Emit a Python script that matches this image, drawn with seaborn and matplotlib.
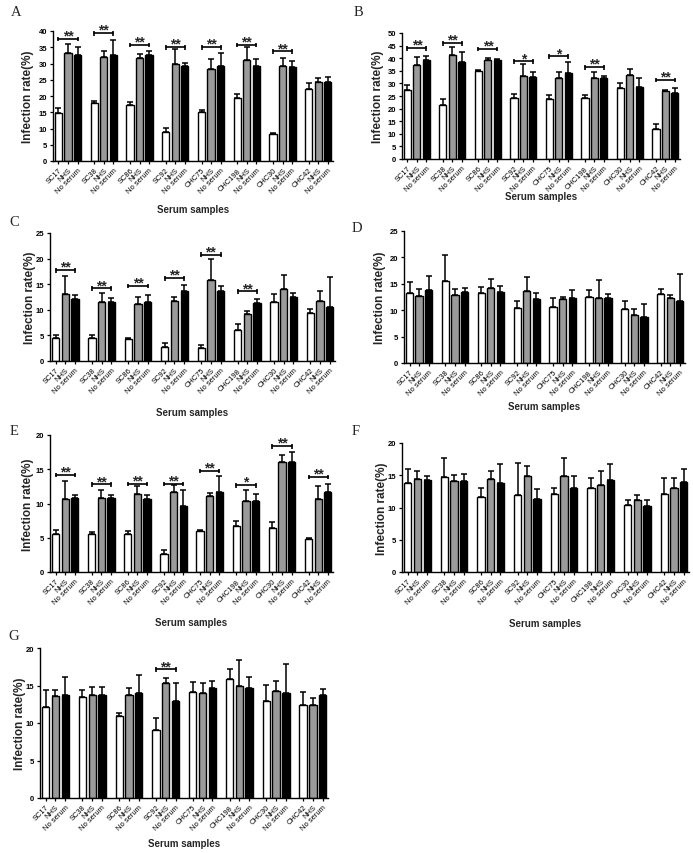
import numpy as np
import pandas as pd
import matplotlib
matplotlib.use("Agg")
import matplotlib.pyplot as plt
import seaborn as sns

groups = ["SC17", "SC38", "SC86", "SC92", "CHC75", "CHC198", "CHC30", "CHC42"]
conditions = ["Serum", "NHS", "No serum"]

# ---- Panel A ----
A_serum = [14.8, 17.7, 17.3, 9.0, 15.0, 19.5, 8.3, 22.3]
A_serum_err = [1.4, 0.9, 1.0, 1.1, 0.8, 1.1, 0.3, 1.7]
A_nhs = [33.2, 32.0, 31.8, 29.7, 28.4, 31.1, 29.3, 24.3]
A_nhs_err = [2.7, 1.8, 1.2, 4.7, 3.1, 4.0, 2.4, 1.2]
A_none = [32.6, 32.6, 32.6, 29.1, 29.3, 29.3, 28.8, 24.3]
A_none_err = [2.6, 4.5, 1.3, 1.1, 4.0, 2.0, 2.0, 1.6]
A_sig_groups = [0, 1, 2, 3, 4, 5, 6]
A_sig_y = [37.6, 39.4, 35.8, 35.1, 35.1, 35.8, 33.8]
A_sig_text = ["**", "**", "**", "**", "**", "**", "**"]

# ---- Panel B ----
B_serum = [27.5, 21.5, 35.1, 24.1, 23.9, 24.4, 28.1, 12.1]
B_serum_err = [2.0, 2.4, 0.4, 1.7, 1.6, 0.9, 2.0, 1.8]
B_nhs = [37.4, 41.1, 39.4, 32.8, 32.0, 32.2, 33.4, 26.8]
B_nhs_err = [3.0, 3.3, 0.7, 4.8, 2.4, 2.2, 2.4, 0.4]
B_none = [39.4, 38.5, 39.4, 32.4, 34.2, 32.1, 28.4, 26.1]
B_none_err = [1.4, 3.9, 0.2, 2.2, 4.2, 0.8, 3.6, 2.1]
B_sig_groups = [0, 1, 2, 3, 4, 5, 7]
B_sig_y = [44.0, 46.0, 43.8, 38.7, 40.7, 36.5, 31.4]
B_sig_text = ["**", "**", "**", "*", "*", "**", "**"]

# ---- Panel C ----
C_serum = [4.4, 4.4, 4.25, 2.8, 2.6, 6.0, 11.6, 9.3]
C_serum_err = [0.7, 0.6, 0.3, 0.7, 0.5, 1.2, 1.4, 0.9]
C_nhs = [13.0, 11.5, 11.1, 11.75, 15.9, 9.1, 14.0, 11.7]
C_nhs_err = [3.6, 1.7, 1.4, 0.8, 4.1, 0.7, 2.8, 2.0]
C_none = [12.1, 11.55, 11.6, 13.7, 13.6, 11.4, 12.5, 10.6]
C_none_err = [0.8, 0.8, 1.3, 1.1, 1.0, 0.8, 0.7, 5.9]
C_sig_groups = [0, 1, 2, 3, 4, 5]
C_sig_y = [17.75, 14.2, 14.7, 16.2, 20.8, 13.6]
C_sig_text = ["**", "**", "**", "**", "**", "**"]

# ---- Panel D ----
D_serum = [13.3, 15.6, 13.35, 10.4, 10.7, 12.5, 10.25, 13.1]
D_serum_err = [2.1, 4.9, 1.0, 1.3, 1.6, 1.3, 1.5, 0.9]
D_nhs = [12.7, 12.9, 14.2, 13.7, 12.15, 12.3, 9.0, 12.3]
D_nhs_err = [1.3, 1.1, 1.7, 2.5, 0.3, 3.5, 1.3, 0.5]
D_none = [13.9, 13.4, 13.5, 12.15, 12.3, 12.3, 8.8, 11.7]
D_none_err = [2.5, 0.8, 1.0, 1.2, 1.5, 0.8, 2.3, 5.2]
D_sig_groups = []
D_sig_y = []
D_sig_text = []

# ---- Panel E ----
E_serum = [5.6, 5.6, 5.6, 2.6, 6.0, 6.7, 6.4, 4.85]
E_serum_err = [0.6, 0.2, 0.4, 0.6, 0.2, 0.8, 0.9, 0.05]
E_nhs = [10.7, 10.8, 11.4, 11.65, 11.1, 10.4, 16.1, 10.7]
E_nhs_err = [2.6, 1.2, 1.1, 1.0, 0.5, 1.5, 1.0, 1.9]
E_none = [10.8, 10.8, 10.6, 9.7, 11.75, 10.3, 16.1, 11.75]
E_none_err = [0.5, 0.5, 0.6, 2.2, 2.2, 1.1, 1.4, 1.1]
E_sig_groups = [0, 1, 2, 3, 4, 5, 6, 7]
E_sig_y = [14.2, 12.8, 12.9, 12.9, 14.8, 12.7, 18.4, 13.9]
E_sig_text = ["**", "**", "**", "**", "**", "*", "**", "**"]

# ---- Panel F ----
F_serum = [13.8, 14.8, 11.7, 11.9, 12.1, 12.95, 10.35, 12.1]
F_serum_err = [2.1, 2.9, 1.3, 5.0, 0.9, 1.55, 0.8, 2.4]
F_nhs = [14.4, 14.15, 14.4, 14.9, 14.9, 13.45, 11.15, 12.95]
F_nhs_err = [1.2, 0.9, 1.2, 1.5, 2.7, 2.2, 0.75, 1.6]
F_none = [14.25, 14.05, 13.8, 11.25, 13.05, 14.25, 10.2, 14.0]
F_none_err = [0.7, 1.2, 3.0, 1.6, 1.85, 2.5, 0.9, 1.95]
F_sig_groups = []
F_sig_y = []
F_sig_text = []

# ---- Panel G ----
G_serum = [12.15, 13.45, 10.95, 9.1, 14.2, 15.9, 13.0, 12.35]
G_serum_err = [2.2, 1.0, 0.4, 1.55, 1.25, 1.35, 2.1, 1.85]
G_nhs = [13.6, 13.7, 13.7, 15.3, 14.0, 14.9, 14.3, 12.45]
G_nhs_err = [0.85, 1.1, 1.0, 0.7, 1.3, 3.45, 1.25, 0.95]
G_none = [13.7, 13.7, 14.0, 12.95, 14.65, 14.7, 14.0, 13.7]
G_none_err = [2.45, 1.1, 2.35, 2.35, 1.0, 1.45, 3.9, 0.9]
G_sig_groups = [3]
G_sig_y = [17.15]
G_sig_text = ["**"]

panels = {
    "A": (A_serum, A_serum_err, A_nhs, A_nhs_err, A_none, A_none_err, A_sig_groups, A_sig_y, A_sig_text, 40),
    "B": (B_serum, B_serum_err, B_nhs, B_nhs_err, B_none, B_none_err, B_sig_groups, B_sig_y, B_sig_text, 50),
    "C": (C_serum, C_serum_err, C_nhs, C_nhs_err, C_none, C_none_err, C_sig_groups, C_sig_y, C_sig_text, 25),
    "D": (D_serum, D_serum_err, D_nhs, D_nhs_err, D_none, D_none_err, D_sig_groups, D_sig_y, D_sig_text, 25),
    "E": (E_serum, E_serum_err, E_nhs, E_nhs_err, E_none, E_none_err, E_sig_groups, E_sig_y, E_sig_text, 20),
    "F": (F_serum, F_serum_err, F_nhs, F_nhs_err, F_none, F_none_err, F_sig_groups, F_sig_y, F_sig_text, 20),
    "G": (G_serum, G_serum_err, G_nhs, G_nhs_err, G_none, G_none_err, G_sig_groups, G_sig_y, G_sig_text, 20),
}

# layout in pixels: left, right, top, bottom of axes; ylabel x, xlabel y, letter x, letter y
layout = {
    "A": (53, 333, 32, 162, 28, 210, 16, 12),
    "B": (402, 680, 34, 160, 378, 197, 358, 12),
    "C": (50, 335, 234, 362, 30, 413, 14, 222),
    "D": (404, 685, 232, 364, 380, 407, 357, 228),
    "E": (50, 333, 436, 573, 28, 623, 14, 432),
    "F": (402, 689, 444, 573, 382, 624, 356, 432),
    "G": (40, 328, 649, 799, 20, 844, 14, 637),
}

sns.set_style("ticks")
plt.rcParams["font.family"] = ["Liberation Sans", "DejaVu Sans"]

W, H = 693, 854
fig = plt.figure(figsize=(W / 100, H / 100), dpi=100)
palette = ["white", "#9a9a9a", "black"]

for key, (s, se, n, ne, o, oe, sg, sy, st, ymax) in panels.items():
    l, r, t, b, ylx, xly, lx, ly = layout[key]
    ax = fig.add_axes([l / W, 1 - b / H, (r - l) / W, (b - t) / H])
    rows = []
    for gi, g in enumerate(groups):
        rows.append((g, conditions[0], s[gi]))
        rows.append((g, conditions[1], n[gi]))
        rows.append((g, conditions[2], o[gi]))
    df = pd.DataFrame(rows, columns=["group", "condition", "value"])
    sns.barplot(data=df, x="group", y="value", hue="condition", order=groups,
                hue_order=conditions, palette=palette, edgecolor="black",
                linewidth=1.0, errorbar=None, width=0.8, gap=0.25,
                legend=False, ax=ax, zorder=2)
    bars = sorted(ax.patches, key=lambda p: p.get_x())
    centers = np.array([p.get_x() + p.get_width() / 2 for p in bars])
    heights = np.array([p.get_height() for p in bars])
    errs = []
    for gi in range(len(groups)):
        errs += [se[gi], ne[gi], oe[gi]]
    errs = np.array(errs)
    ax.errorbar(centers, heights, yerr=[np.zeros_like(errs), errs], fmt="none",
                ecolor="black", elinewidth=1.1, capsize=2.2, capthick=1.1, zorder=3)

    labels = []
    for g in groups:
        labels += [g, "NHS", "No serum"]
    ax.set_xticks(centers)
    ax.set_xticklabels(labels, rotation=45, ha="right", rotation_mode="anchor",
                       fontsize=5.4)
    ax.set_xlim(-0.42, 7.41)
    ax.set_ylim(0, ymax)
    ax.set_yticks(np.arange(0, ymax + 1, 5))
    ax.set_yticklabels([str(v) for v in np.arange(0, ymax + 1, 5)],
                       fontsize=5.5, fontweight="bold")
    ax.tick_params(axis="both", length=2.5, width=0.9, pad=1.5, colors="black")
    for sp in ["left", "bottom"]:
        ax.spines[sp].set_linewidth(1.0)
        ax.spines[sp].set_color("black")
    sns.despine(ax=ax)

    hpx = b - t
    ax.set_ylabel("Infection rate(%)", fontsize=8.5, fontweight="bold", va="center")
    ax.yaxis.set_label_coords(-(l - ylx) / (r - l), 0.5)
    ax.set_xlabel("Serum samples", fontsize=7, fontweight="bold", va="center")
    ax.xaxis.set_label_coords(0.5, -(xly - b) / hpx)

    tick_h = ymax * 2.6 / hpx
    for gi, yv, txt in zip(sg, sy, st):
        x0 = centers[gi * 3]
        x1 = centers[gi * 3 + 2]
        ax.plot([x0, x1], [yv, yv], color="black", lw=1.2, clip_on=False, zorder=4)
        ax.vlines([x0, x1], yv - tick_h, yv + tick_h * 0.8, color="black", lw=1.2,
                  clip_on=False, zorder=4)
        ax.annotate(txt, xy=((x0 + x1) / 2, yv), xytext=(0, -0.6),
                    textcoords="offset points", ha="center", va="baseline",
                    fontsize=10, fontweight="bold", annotation_clip=False)

    fig.text(lx / W, 1 - ly / H, key, fontsize=10.5, family="Liberation Serif",
             ha="center", va="center")

fig.savefig("out.png", dpi=100)
